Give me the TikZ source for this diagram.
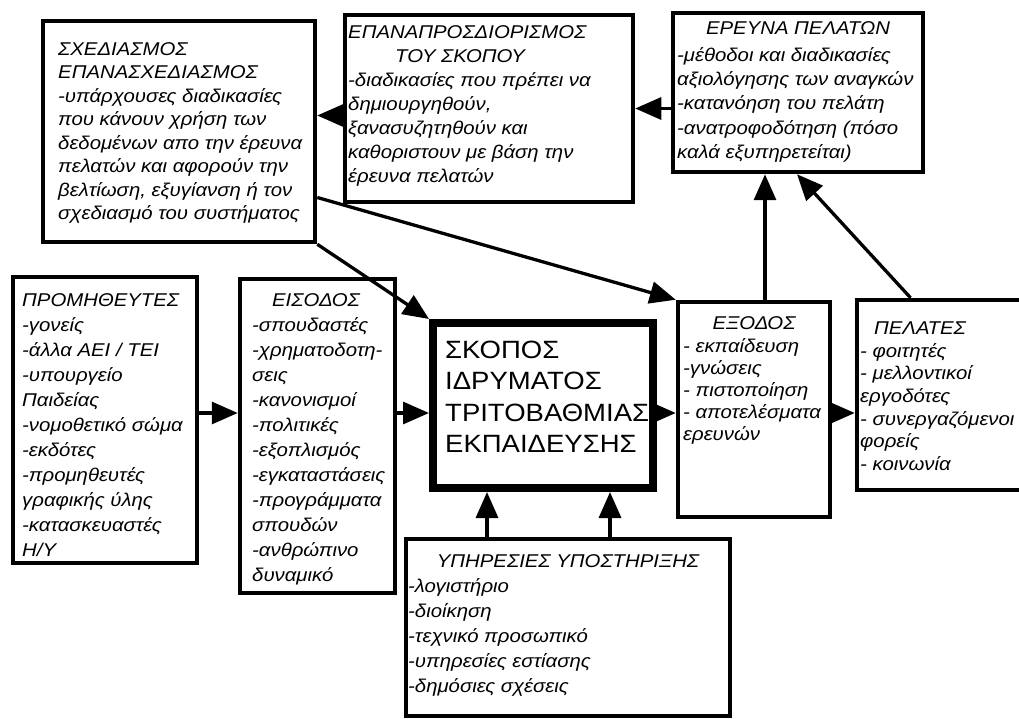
\documentclass[tikz,border=0pt]{standalone}
\usepackage{fontspec}
\setmainfont[FakeStretch=1.1]{Liberation Sans}
\usetikzlibrary{arrows.meta}
\tikzset{
  box/.style={draw=black, line width=4.5pt, inner sep=0pt, fill=white},
  bigbox/.style={box, line width=8pt},
  txt/.style={anchor=north west, inner sep=0pt, align=left},
  ttl/.style={anchor=base, inner sep=0pt},
  arr/.style={line width=3.3pt, -{Triangle[length=26pt,width=22pt]}}
}
\newcommand{\gr}[1]{\itshape\fontsize{18.5}{#1}\selectfont}
\begin{document}
\begin{tikzpicture}[x=1pt,y=-1pt]
\path[fill=white] (0,0) rectangle (1019,719);
\useasboundingbox (0,0) rectangle (1019,719);
\clip (0,0) rectangle (1019,719);

% boxes
\node[box, minimum width=272pt, minimum height=221pt] (design) at (179,131.5) {};
\node[box, minimum width=288pt, minimum height=187pt] (redef) at (489,108.5) {};
\node[box, minimum width=250pt, minimum height=159pt] (res) at (798,92.5) {};
\node[box, minimum width=184pt, minimum height=286pt] (prom) at (105,420) {};
\node[box, minimum width=155pt, minimum height=314pt] (input) at (317.5,436) {};
\node[bigbox, minimum width=220pt, minimum height=165pt] (scope) at (543,405.5) {};
\node[box, minimum width=152pt, minimum height=215pt] (output) at (754,409.5) {};
\node[box, minimum width=173pt, minimum height=190pt] (clients) at (943.5,395) {};
\node[box, minimum width=324pt, minimum height=177pt] (supp) at (568,627.5) {};

% texts
\node[txt, font=\gr{23.5}] (design-t) at (58,38.5) {\strut ΣΧΕΔΙΑΣΜΟΣ\\ΕΠΑΝΑΣΧΕΔΙΑΣΜΟΣ\\-υπάρχουσες διαδικασίες\\που κάνουν χρήση των\\δεδομένων απο την έρευνα\\πελατών και αφορούν την\\βελτίωση, εξυγίανση ή τον\\σχεδιασμό του συστήματος};

\node[txt, font=\gr{24}] (redef-t) at (348,21.2) {\strut ΕΠΑΝΑΠΡΟΣΔΙΟΡΙΣΜΟΣ\\\hspace*{47pt}ΤΟΥ ΣΚΟΠΟΥ\\-διαδικασίες που πρέπει να\\δημιουργηθούν,\\ξανασυζητηθούν και\\καθοριστουν με βάση την\\έρευνα πελατών};

\node[ttl, font=\gr{24}] (res-h) at (798,35) {ΕΡΕΥΝΑ ΠΕΛΑΤΩΝ};
\node[txt, font=\gr{24.3}] (res-t) at (677,44) {\strut -μέθοδοι και διαδικασίες\\αξιολόγησης των αναγκών\\-κατανόηση του πελάτη\\-ανατροφοδότηση (πόσο\\καλά εξυπηρετείται)};

\node[txt, font=\gr{25}] (prom-t) at (22,288.5) {\strut ΠΡΟΜΗΘΕΥΤΕΣ\\-γονείς\\-άλλα ΑΕΙ / ΤΕΙ\\-υπουργείο\\Παιδείας\\-νομοθετικό σώμα\\-εκδότες\\-προμηθευτές\\γραφικής ύλης\\-κατασκευαστές\\Η/Υ};

\node[ttl, font=\gr{25}] (input-h) at (316,306) {ΕΙΣΟΔΟΣ};
\node[txt, font=\gr{25}] (input-t) at (252,313.5) {\strut -σπουδαστές\\-χρηματοδοτη-\\σεις\\-κανονισμοί\\-πολιτικές\\-εξοπλισμός\\-εγκαταστάσεις\\-προγράμματα\\σπουδών\\-ανθρώπινο\\δυναμικό};

\node[txt, font=\fontsize{25}{31.5}\selectfont] (scope-t) at (445,336) {\strut ΣΚΟΠΟΣ\\ΙΔΡΥΜΑΤΟΣ\\ΤΡΙΤΟΒΑΘΜΙΑΣ\\ΕΚΠΑΙΔΕΥΣΗΣ};

\node[ttl, font=\gr{22}] (output-h) at (754,329) {ΕΞΟΔΟΣ};
\node[txt, font=\gr{22}] (output-t) at (683,336.6) {\strut - εκπαίδευση\\-γνώσεις\\- πιστοποίηση\\- αποτελέσματα\\ερευνών};

\node[ttl, font=\gr{22.7}] (clients-h) at (920,334) {ΠΕΛΑΤΕΣ};
\node[txt, font=\gr{22.7}] (clients-t) at (860,341.1) {\strut - φοιτητές\\- μελλοντικοί\\εργοδότες\\- συνεργαζόμενοι\\φορείς\\- κοινωνία};

\node[ttl, font=\gr{25}] (supp-h) at (568,567) {ΥΠΗΡΕΣΙΕΣ ΥΠΟΣΤΗΡΙΞΗΣ};
\node[txt, font=\gr{25}] (supp-t) at (408,574.5) {\strut -λογιστήριο\\-διοίκηση\\-τεχνικό προσωπικό\\-υπηρεσίες εστίασης\\-δημόσιες σχέσεις};

% helper coordinates
\coordinate (rowY) at (0,413);
\coordinate (colA) at (487,0);
\coordinate (colB) at (610,0);
\coordinate (colC) at (765,0);
\coordinate (rdw) at ([yshift=-7pt]redef.west);
\coordinate (dse) at ([yshift=-66pt]design.east);

% connectors
\draw[arr] (redef.east -| res.west) -- (redef.east);
\draw[arr] (rdw) -- (rdw -| design.east);
\draw[arr] (design.south east) -- (scope.north west);
\draw[arr] (dse) -- (output.north west);
\draw[arr] (output.north -| colC) -- (res.south -| colC);
\draw[arr] ([xshift=-33pt]clients.north) -- ([xshift=-1pt]res.south);
\draw[arr] (prom.east |- rowY) -- (input.west |- rowY);
\draw[arr] (input.east |- rowY) -- (scope.west |- rowY);
\draw[arr] (scope.east |- rowY) -- (output.west |- rowY);
\draw[arr] (output.east |- rowY) -- (clients.west |- rowY);
\draw[arr] (supp.north -| colA) -- (scope.south -| colA);
\draw[arr] (supp.north -| colB) -- (scope.south -| colB);
\end{tikzpicture}
\end{document}
